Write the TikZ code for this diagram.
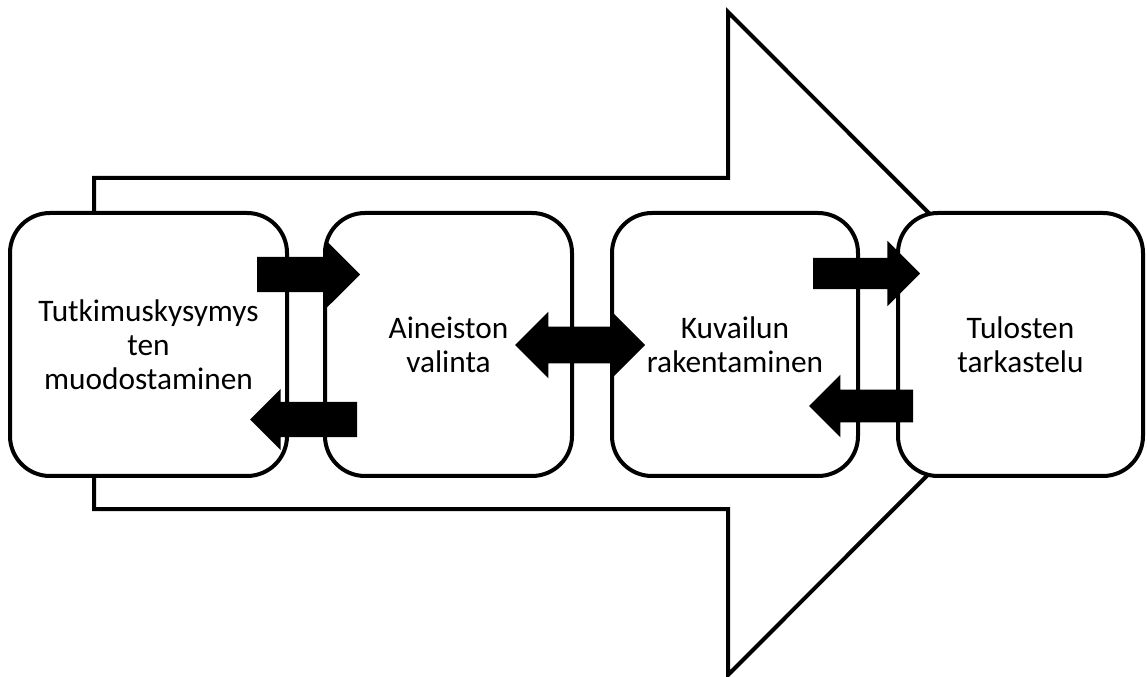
\documentclass[tikz,border=0pt]{standalone}
\usepackage{fontspec}
\setmainfont{Carlito}
\usetikzlibrary{shapes.arrows, positioning}

\begin{document}
\begin{tikzpicture}[
    x=0.75pt, y=-0.75pt,
    stage/.style={draw, rectangle, rounded corners=30pt, fill=white, line width=3pt, minimum height=197.25pt, align=center, font=\fontsize{23.5}{25.5}\selectfont},
    flow/.style={draw, line width=3pt, miter limit=20},
    fwd/.style={single arrow, fill=black, inner xsep=0pt, outer sep=0pt, anchor=tail},
    back/.style={fwd, shape border rotate=180},
    both/.style={double arrow, fill=black, inner xsep=0pt, outer sep=0pt}
]
    \useasboundingbox (0,0) rectangle (1147,677);

    % Big process arrow in the background
    \draw [flow] (94,178) -- (728,178) -- (728,12) -- (1059,343.5) -- (728,675) -- (728,509) -- (94,509) -- cycle;

    % Stages
    \node (kysymys) [stage, minimum width=207.75pt] at (148.5,344.5) {Tutkimuskysymys\\ten\\muodostaminen};
    \node (aineisto) [stage, minimum width=185.25pt, right=25.5pt of kysymys] {Aineiston\\valinta};
    \node (kuvailu) [stage, minimum width=184.5pt, right=27pt of aineisto] {Kuvailun\\rakentaminen};
    \node (tulokset) [stage, minimum width=183.75pt, right=27pt of kuvailu] {Tulosten\\tarkastelu};

    % Block arrows between the stages
    \node (a1) [fwd, minimum height=77.25pt, inner ysep=13.1pt, single arrow head extend=12.75pt] at (257,274.5) {};
    \node (a2) [back, minimum height=80.25pt, inner ysep=13.1pt, single arrow head extend=9.75pt] at (357,419.5) {};
    \node (a3) [both, minimum height=97.5pt, inner ysep=13.5pt, double arrow head extend=11.25pt] at (580,345) {};
    \node (a4) [fwd, minimum height=80.25pt, inner ysep=11.6pt, single arrow head extend=12.75pt] at (813,273.5) {};
    \node (a5) [back, minimum height=78pt, inner ysep=12pt, single arrow head extend=11.25pt] at (913,406) {};
\end{tikzpicture}
\end{document}
